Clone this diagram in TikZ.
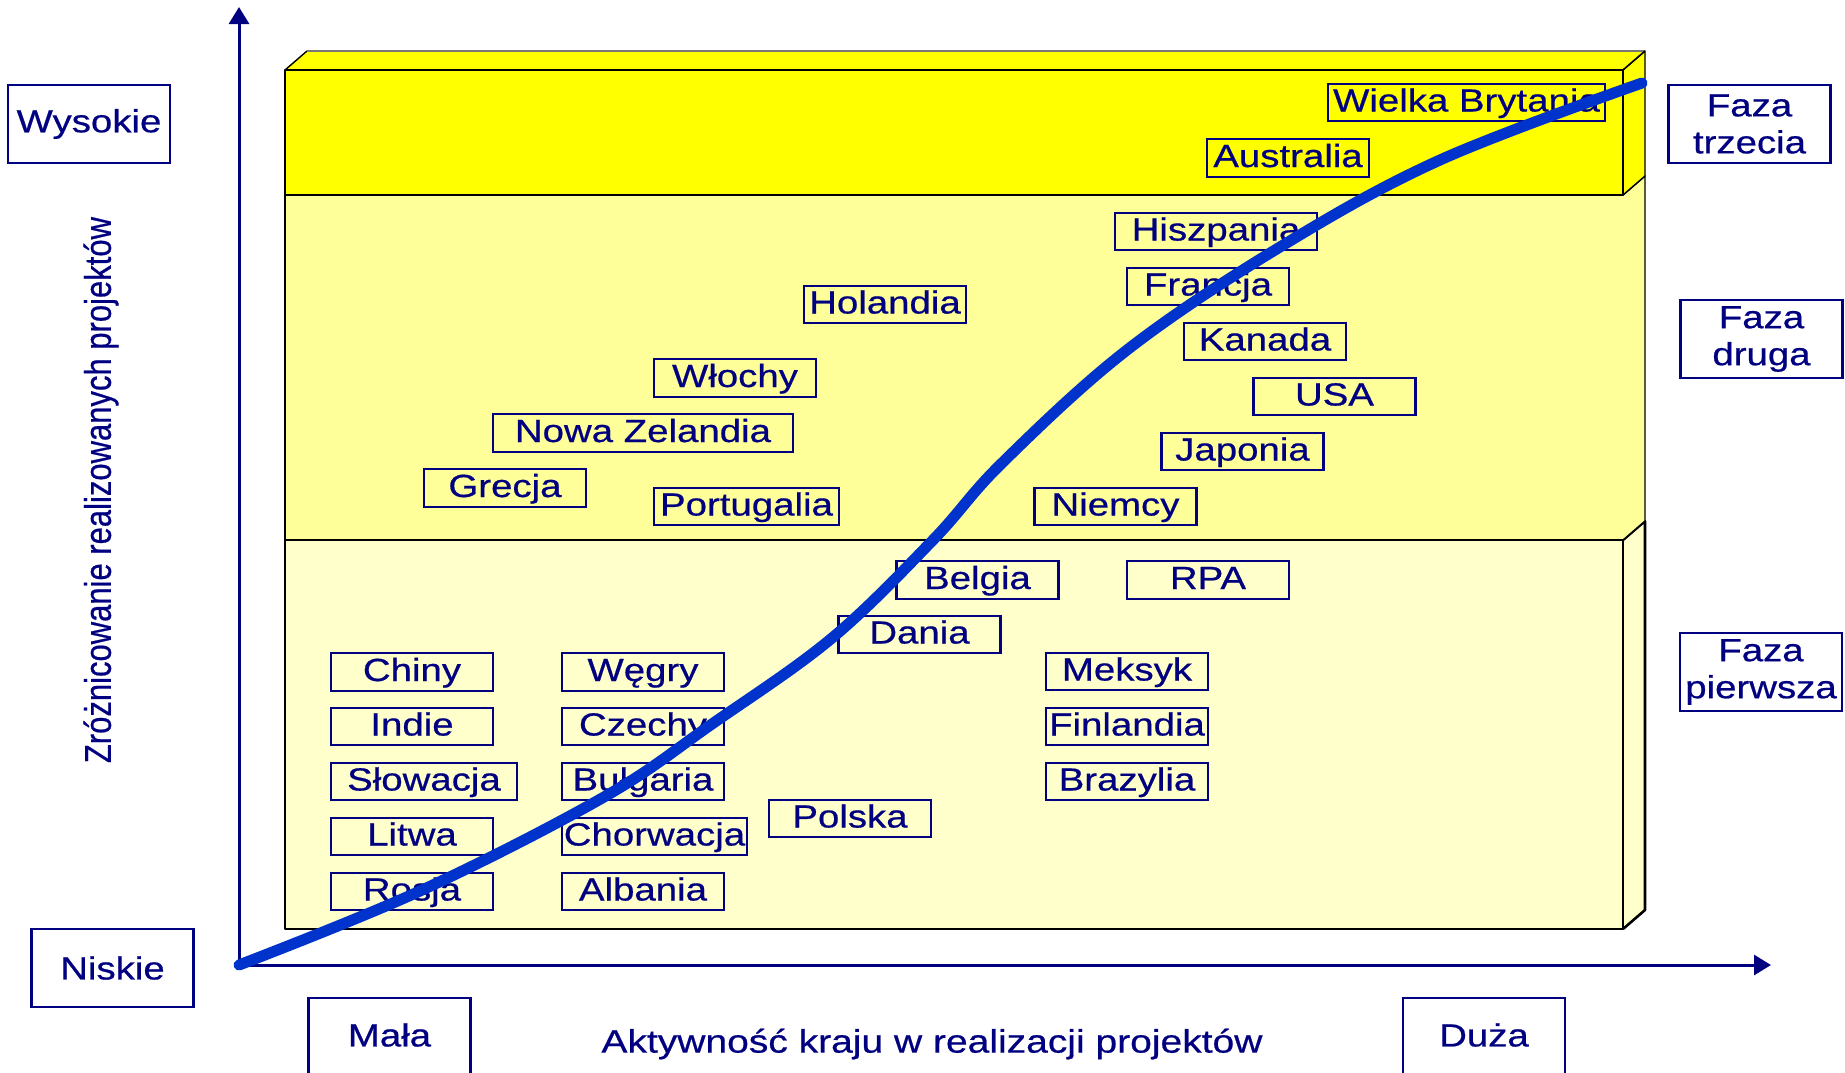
\documentclass[tikz,border=0pt]{standalone}
\usepackage{fontspec}
\setmainfont{Liberation Sans}[FakeStretch=1.2, FakeBold=0.6]
\newfontfamily\plainsans{Liberation Sans}[FakeBold=0.6]
\usetikzlibrary{arrows.meta}
\definecolor{navy}{RGB}{0,0,128}
\definecolor{curveblue}{RGB}{0,51,204}
\definecolor{bandA}{RGB}{255,255,0}
\definecolor{bandB}{RGB}{255,255,153}
\definecolor{bandC}{RGB}{255,255,204}
\definecolor{edgegray}{RGB}{120,120,120}
\begin{document}
\begin{tikzpicture}[x=1pt,y=-1pt,
  txt/.style={font=\fontsize{32}{37}\selectfont, text=navy},
  cbox/.style={txt, draw=navy, line width=2.2pt, inner sep=0pt, minimum height=37.5pt,
    minimum width=162pt, text height=24pt, text depth=6pt},
  lbox/.style={txt, draw=navy, line width=2.2pt, inner sep=0pt, minimum width=162pt,
    minimum height=78pt, align=center},
  openbox/.style={draw=navy, line width=2.2pt, inner sep=0pt, minimum width=162pt,
    minimum height=140pt, anchor=north},
  thinedge/.style={black, line width=1.4pt, line join=round},
  thickedge/.style={black, line width=2.6pt, line join=round},
  axis/.style={navy, line width=3pt, -{Triangle[length=17pt,width=20pt]}}
]
\useasboundingbox (0,0) rectangle (1845,1072);
\clip (0,0) rectangle (1845,1072);

% ---------- 3D block: bottom band ----------
\fill[bandC] (285,540) rectangle (1623,929);
\fill[bandC] (1623,540) -- (1645,521) -- (1645,910) -- (1623,929) -- cycle;
\draw[thickedge] (285,540) rectangle (1623,929);
\draw[thickedge] (1623,540) -- (1645,521) -- (1645,910) -- (1623,929);

% ---------- middle band ----------
\fill[bandB] (285,195) rectangle (1623,540);
\fill[bandB] (1623,195) -- (1645,176) -- (1645,521) -- (1623,540) -- cycle;
\draw[thinedge] (285,195) -- (285,540);
\draw[thinedge] (285,540) -- (1623,540);
\draw[thinedge] (1623,195) -- (1645,176) -- (1645,521) -- (1623,540);

% ---------- top band ----------
\fill[bandA] (285,70) rectangle (1623,195);
\fill[bandA] (1623,70) -- (1645,51) -- (1645,176) -- (1623,195) -- cycle;
\fill[bandA] (285,70) -- (307,51) -- (1645,51) -- (1623,70) -- cycle;
\draw[thinedge] (285,70) rectangle (1623,195);
\draw[thinedge] (1623,70) -- (1645,51) -- (1645,176) -- (1623,195);
\draw[thinedge] (285,70) -- (307,51);
\draw[edgegray, line width=1.6pt] (307,51) -- (1645,51);
\draw[thinedge] (1623,70) -- (1645,51);

% ---------- axes ----------
\coordinate (origin) at (239,965);
\coordinate (ytip) at (239,7);
\coordinate (xtip) at (1771,965);
\draw[axis] (origin) -- (ytip);
\draw[axis] (origin) -- (xtip);

% ---------- axis labels ----------
\node[txt, font=\plainsans\fontsize{31}{37}\selectfont, rotate=90] (ylab) at (101,490)
  {\scalebox{1}[1.2]{Zróżnicowanie realizowanych projektów}};
\node[txt, font=\fontsize{32.5}{37}\selectfont] (xlab) at (932,1044) {Aktywność kraju w realizacji projektów};

% ---------- level / phase boxes ----------
\node[lbox] (wysokie) at (89,124) {Wysokie};
\node[lbox] (niskie) at (112.5,968) {Niskie};
\node[lbox] (faza3) at (1749.5,124) {Faza\\trzecia};
\node[lbox] (faza2) at (1761.5,339) {Faza\\druga};
\node[lbox] (faza1) at (1761,672) {Faza\\pierwsza};

\node[openbox] (malabox) at (389.5,997) {};
\node[txt] (mala) at (389.5,1035) {Mała};
\node[openbox] (duzabox) at (1484,997) {};
\node[txt] (duza) at (1484,1035) {Duża};

% ---------- countries ----------
\node[cbox, minimum width=277pt] (wb) at (1466.5,102.5) {Wielka Brytania};
\node[cbox] (australia) at (1288,158) {Australia};
\node[cbox, minimum width=202pt] (hiszpania) at (1216,231.5) {Hiszpania};
\node[cbox] (francja) at (1208,286.5) {Francja};
\node[cbox] (holandia) at (885,304.5) {Holandia};
\node[cbox] (kanada) at (1265,341.5) {Kanada};
\node[cbox] (wlochy) at (735,378) {Włochy};
\node[cbox] (usa) at (1334.5,396.5) {USA};
\node[cbox, minimum width=300pt] (nz) at (643,433) {Nowa Zelandia};
\node[cbox] (japonia) at (1242.5,451.5) {Japonia};
\node[cbox] (grecja) at (505,488) {Grecja};
\node[cbox, minimum width=185pt] (portugalia) at (746.5,506.5) {Portugalia};
\node[cbox] (niemcy) at (1115.5,506.5) {Niemcy};
\node[cbox] (belgia) at (977.5,580) {Belgia};
\node[cbox] (rpa) at (1208,580) {RPA};
\node[cbox] (dania) at (919.5,634.5) {Dania};
\node[cbox] (meksyk) at (1127,671.5) {Meksyk};
\node[cbox] (finlandia) at (1127,726.5) {Finlandia};
\node[cbox] (brazylia) at (1127,781.5) {Brazylia};
\node[cbox] (chiny) at (412,672) {Chiny};
\node[cbox] (indie) at (412,726.5) {Indie};
\node[cbox, minimum width=186pt] (slowacja) at (424,781.5) {Słowacja};
\node[cbox] (litwa) at (412,836.5) {Litwa};
\node[cbox] (rosja) at (412,891.5) {Rosja};
\node[cbox] (wegry) at (643,672) {Węgry};
\node[cbox] (czechy) at (643,726.5) {Czechy};
\node[cbox] (bulgaria) at (643,781.5) {Bułgaria};
\node[cbox, minimum width=185pt] (chorwacja) at (654.5,836.5) {Chorwacja};
\node[cbox] (albania) at (643,891.5) {Albania};
\node[cbox] (polska) at (850,818.5) {Polska};

% ---------- S-curve ----------
\draw[curveblue, line width=11pt, line cap=round, line join=round]
  plot[smooth, tension=0.6] coordinates {(239,965) (420,891) (604,797) (712,724)
  (832,638) (933,540) (1002,463) (1127,350) (1280,247) (1440,160) (1642,83)};
\end{tikzpicture}
\end{document}
